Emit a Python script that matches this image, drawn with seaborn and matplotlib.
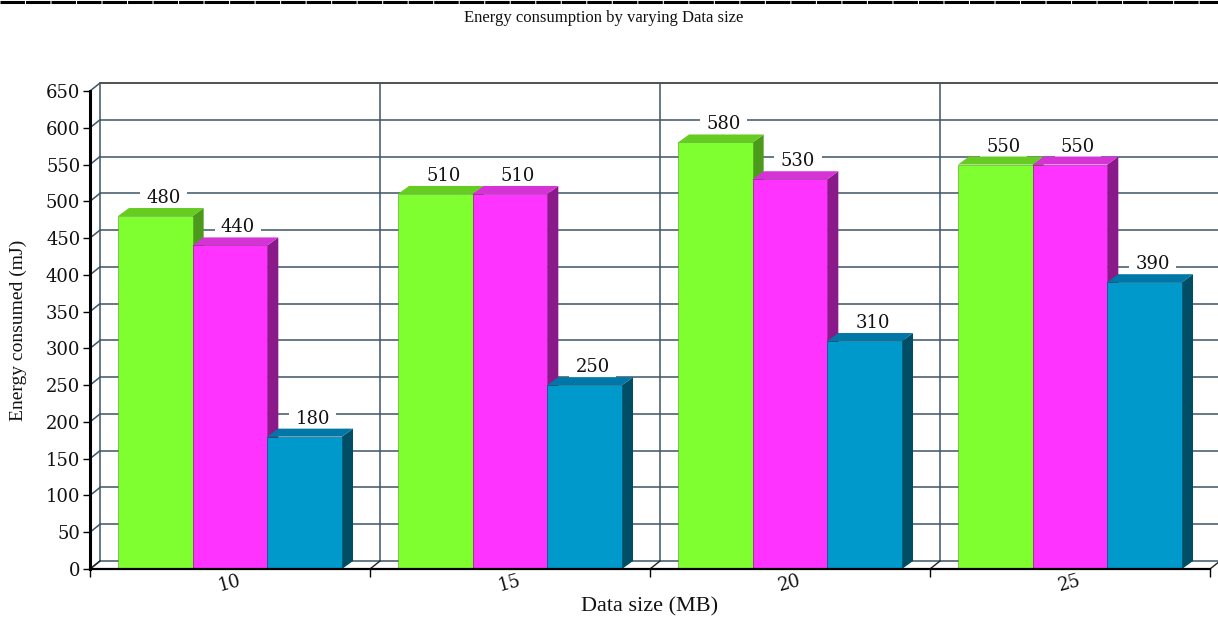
import matplotlib
matplotlib.use("Agg")
import matplotlib.pyplot as plt
from matplotlib.patches import Polygon
from matplotlib.lines import Line2D
from matplotlib.colors import to_hex
import seaborn as sns
import pandas as pd
import numpy as np

# ---- data -------------------------------------------------------------
data_sizes = ["10", "15", "20", "25"]
series_names = ["Series 1", "Series 2", "Series 3"]
series_1 = [480, 510, 580, 550]
series_2 = [440, 510, 530, 550]
series_3 = [180, 250, 310, 390]
y_ticks = list(range(0, 651, 50))

# ---- colours (front, side, top faces) ---------------------------------
front_colors = ["#7FFF2F", "#FF33FF", "#0099CC"]
side_colors = ["#4C9A1C", "#8A1A8A", "#004E66"]
top_colors = ["#66CC22", "#D633D6", "#0077A6"]
grid_color = "#3D5566"

df = pd.DataFrame({
    "size": data_sizes * 3,
    "series": np.repeat(series_names, len(data_sizes)),
    "energy": series_1 + series_2 + series_3,
})

sns.set_theme(style="white")
plt.rcParams["font.family"] = ["Liberation Serif", "DejaVu Serif"]

W_PX, H_PX = 1218, 619
fig = plt.figure(figsize=(W_PX / 100, H_PX / 100), dpi=100)
L, R, B, T = 90, 1210, 569, 91
ax = fig.add_axes([L / W_PX, (H_PX - B) / H_PX, (R - L) / W_PX, (B - T) / H_PX])

sns.barplot(data=df, x="size", y="energy", hue="series", palette=front_colors,
            saturation=1, width=0.8, errorbar=None, legend=False,
            linewidth=0, ax=ax)
ax.set_xlim(-0.5, 3.5)
ax.set_ylim(0, 650)
ax.set_facecolor("white")

# pixel -> data unit conversion for the pseudo-3D depth
px_x = 4.0 / (R - L)
px_y = 650.0 / (B - T)
DX, DY = 11 * px_x, 8 * px_y      # bar depth
WX, WY = 10 * px_x, 8 * px_y      # back-wall offset

x0_ax, x1_ax = -0.5, 3.5
wall_kw = dict(color=grid_color, lw=1.1, zorder=0.5, clip_on=False)

# back wall horizontal grid + connecting diagonals from the front axis
for v in y_ticks:
    c = "#222222" if v == y_ticks[-1] else grid_color
    ax.add_line(Line2D([x0_ax + WX, x1_ax + WX + 0.05], [v + WY, v + WY],
                       color=c, lw=1.1, zorder=0.5, clip_on=False))
    ax.add_line(Line2D([x0_ax, x0_ax + WX], [v, v + WY], **wall_kw))
# left wall edge and category separators on the back wall
for xb in [x0_ax, 0.5, 1.5, 2.5]:
    ax.add_line(Line2D([xb + WX, xb + WX], [WY, 650 + WY], **wall_kw))
# floor diagonals
for xb in [x0_ax, 0.5, 1.5, 2.5, 3.5]:
    ax.add_line(Line2D([xb, xb + WX], [0, WY], color="#222222", lw=1.0,
                       zorder=0.5, clip_on=False))

# ---- 3D faces of the bars ---------------------------------------------
bars = []
for p in ax.patches:
    idx = [to_hex(c).lower() for c in front_colors].index(to_hex(p.get_facecolor()).lower())
    bars.append((p.get_x(), p.get_width(), p.get_height(), idx, p))
bars.sort(key=lambda b: b[0])

for k, (x0, w, h, idx, p) in enumerate(bars):
    z = 2 + 3 * k
    side = Polygon([(x0 + w, 0), (x0 + w + DX, DY), (x0 + w + DX, h + DY), (x0 + w, h)],
                   closed=True, fc=side_colors[idx], ec="none", zorder=z)
    top = Polygon([(x0, h), (x0 + DX, h + DY), (x0 + w + DX, h + DY), (x0 + w, h)],
                  closed=True, fc=top_colors[idx], ec="none", zorder=z + 1)
    ax.add_patch(side)
    ax.add_patch(top)
    p.set_zorder(z + 2)
    p.set_edgecolor(side_colors[idx])
    p.set_linewidth(0.4)
    # value label sits on the back wall, its white box hiding the grid line
    ax.annotate(f"{int(h)}", xy=(x0 + w / 2, h), xytext=(8, 18),
                textcoords="offset pixels", ha="center", va="center",
                fontsize=13, family="DejaVu Serif", color="#111111",
                bbox=dict(boxstyle="square,pad=0.35", fc="white", ec="none"),
                zorder=1.5)

# ---- axes ---------------------------------------------------------------
for s in ["top", "right"]:
    ax.spines[s].set_visible(False)
ax.spines["left"].set_linewidth(2.2)
ax.spines["left"].set_color("black")
ax.spines["bottom"].set_linewidth(1.6)
ax.spines["bottom"].set_color("black")
ax.spines["left"].set_zorder(200)
ax.spines["bottom"].set_zorder(200)

ax.set_yticks(y_ticks)
ax.tick_params(axis="y", direction="out", length=5, width=1, color="black",
               left=True, labelsize=13, pad=2)
for lbl in ax.get_yticklabels():
    lbl.set_fontfamily("DejaVu Serif")
    lbl.set_color("#111111")

ax.set_xticks(range(len(data_sizes)))
ax.set_xticklabels(data_sizes, rotation=15, fontsize=13, family="DejaVu Serif",
                   color="#111111")
ax.set_xticks([x0_ax, 0.5, 1.5, 2.5, 3.5], minor=True)
ax.tick_params(axis="x", which="major", length=0, pad=2)
ax.tick_params(axis="x", which="minor", direction="out", length=6, width=1,
               color="black", bottom=True)

ax.set_xlabel("Data size (MB)", fontsize=16, color="#111111")
ax.xaxis.set_label_coords(0.5, -(607 - B) / (B - T))
ax.xaxis.label.set_va("center")
ax.set_ylabel("Energy consumed (mJ)", fontsize=14, color="#111111")
ax.yaxis.set_label_coords(-(L - 18) / (R - L), 0.5)
ax.yaxis.label.set_va("center")

fig.suptitle("Energy consumption by varying Data size", x=604 / W_PX,
             y=1 - 18 / H_PX, fontsize=12, va="center", color="#111111")

# thick rule along the top edge
fig.add_artist(Line2D([0, 1], [1 - 1.5 / H_PX] * 2, transform=fig.transFigure,
                      color="black", lw=2.2, dashes=(8, 0.35)))

fig.savefig("out.png", dpi=100, facecolor="white")
